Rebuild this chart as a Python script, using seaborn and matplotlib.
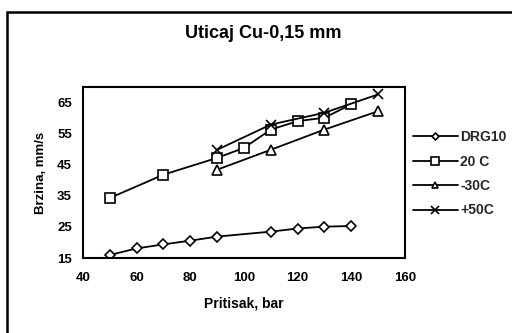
import matplotlib
matplotlib.use("Agg")
import matplotlib.pyplot as plt
import seaborn as sns
import pandas as pd
from matplotlib.patches import Rectangle

sns.set_theme(style="white")
plt.rcParams['font.family'] = ['Liberation Sans', 'DejaVu Sans']
plt.rcParams['font.weight'] = 'bold'

# Data
drg10_x = [50, 60, 70, 80, 90, 110, 120, 130, 140]
drg10_y = [16.0, 18.1, 19.4, 20.6, 21.9, 23.5, 24.5, 25.1, 25.3]
c20_x = [50, 70, 90, 100, 110, 120, 130, 140]
c20_y = [34.3, 41.8, 47.2, 50.4, 56.3, 59.0, 60.1, 64.4]
m30_x = [90, 110, 130, 150]
m30_y = [43.4, 49.8, 56.3, 62.2]
p50_x = [90, 110, 130, 150]
p50_y = [49.8, 57.9, 61.7, 67.6]

labels = ["DRG10", "20 C", "-30C", "+50C"]
xs = [drg10_x, c20_x, m30_x, p50_x]
ys = [drg10_y, c20_y, m30_y, p50_y]
markers = ["D", "s", "^", "x"]
msizes = [5, 7.5, 6.5, 7.5]

fig = plt.figure(figsize=(5.12, 3.33), dpi=100)
ax = fig.add_axes([0.162, 0.225, 0.629, 0.514])

for lab, x, y, m, ms in zip(labels, xs, ys, markers, msizes):
    df = pd.DataFrame({"x": x, "y": y})
    sns.lineplot(data=df, x="x", y="y", ax=ax, color="black", marker=m,
                 markersize=ms, markerfacecolor="white", markeredgecolor="black",
                 markeredgewidth=1.2, linewidth=1.3, label=lab)

ax.set_xlim(40, 160)
ax.set_ylim(15, 70)
ax.set_xticks([40, 60, 80, 100, 120, 140, 160])
ax.set_yticks([15, 25, 35, 45, 55, 65])
ax.tick_params(axis="x", length=0, labelsize=9.5, pad=10, colors="black")
ax.tick_params(axis="y", length=0, labelsize=9.5, pad=8, colors="black")
for t in ax.get_xticklabels() + ax.get_yticklabels():
    t.set_fontweight("bold")
for s in ax.spines.values():
    s.set_visible(True)
    s.set_color("black")
    s.set_linewidth(1.5)

ax.set_xlabel("Pritisak, bar", fontsize=10, fontweight="bold", labelpad=9, color="black")
ax.set_ylabel("Brzina, mm/s", fontsize=9.5, fontweight="bold", labelpad=7, color="black")

ax.legend_.remove()
handles, labs = ax.get_legend_handles_labels()
fig.legend(handles, labs, loc="upper left", bbox_to_anchor=(0.807, 0.609),
           frameon=False, fontsize=10, handlelength=3.2, handletextpad=0.2,
           labelspacing=0.75, borderaxespad=0, borderpad=0, markerscale=0.7)

fig.text(0.514, 0.90, "Uticaj Cu-0,15 mm", ha="center", va="center",
         fontsize=13, fontweight="bold", color="black")

fig.patches.append(Rectangle((0.0137, -0.2), 1.2, 1.164, transform=fig.transFigure,
                             fill=False, edgecolor="black", linewidth=1.8))

fig.savefig("out.png", dpi=100)
